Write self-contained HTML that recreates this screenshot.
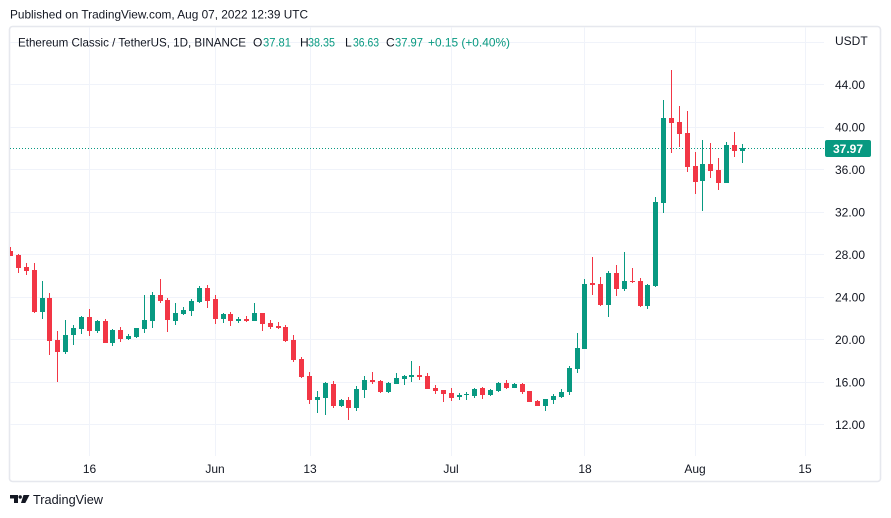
<!DOCTYPE html>
<html><head><meta charset="utf-8"><style>
html,body{margin:0;padding:0;background:#fff;}
svg{display:block;font-family:"Liberation Sans",sans-serif;}
.g{fill:#089981}.r{fill:#f23645}
</style></head><body>
<svg width="891" height="518" viewBox="0 0 891 518" xmlns="http://www.w3.org/2000/svg">
<rect width="891" height="518" fill="#fff"/>
<text x="10" y="18.5" font-size="12" fill="#131722" textLength="298" lengthAdjust="spacingAndGlyphs">Published on TradingView.com, Aug 07, 2022 12:39 UTC</text>
<rect x="9.5" y="26.5" width="871" height="455" rx="3" fill="none" stroke="#e6e8ee" stroke-width="1.6"/>
<g stroke="#f0f3fa" stroke-width="1">
<line x1="10" x2="824" y1="42.5" y2="42.5"/>
<line x1="10" x2="824" y1="84.5" y2="84.5"/>
<line x1="10" x2="824" y1="127.5" y2="127.5"/>
<line x1="10" x2="824" y1="169.5" y2="169.5"/>
<line x1="10" x2="824" y1="212.5" y2="212.5"/>
<line x1="10" x2="824" y1="254.5" y2="254.5"/>
<line x1="10" x2="824" y1="297.5" y2="297.5"/>
<line x1="10" x2="824" y1="339.5" y2="339.5"/>
<line x1="10" x2="824" y1="382.5" y2="382.5"/>
<line x1="10" x2="824" y1="424.5" y2="424.5"/>
<line x1="89.5" x2="89.5" y1="27" y2="456"/>
<line x1="215.5" x2="215.5" y1="27" y2="456"/>
<line x1="310.5" x2="310.5" y1="27" y2="456"/>
<line x1="451.5" x2="451.5" y1="27" y2="456"/>
<line x1="584.5" x2="584.5" y1="27" y2="456"/>
<line x1="695.5" x2="695.5" y1="27" y2="456"/>
<line x1="805.5" x2="805.5" y1="27" y2="456"/>
</g>
<g font-size="12" fill="#131722">
<text x="18" y="46.5" textLength="228" lengthAdjust="spacingAndGlyphs">Ethereum Classic / TetherUS, 1D, BINANCE</text>
<text x="253" y="46.5">O</text><text x="263" y="46.5" fill="#089981" textLength="28" lengthAdjust="spacingAndGlyphs">37.81</text>
<text x="300" y="46.5">H</text><text x="308" y="46.5" fill="#089981" textLength="27" lengthAdjust="spacingAndGlyphs">38.35</text>
<text x="345" y="46.5">L</text><text x="353" y="46.5" fill="#089981" textLength="26" lengthAdjust="spacingAndGlyphs">36.63</text>
<text x="386" y="46.5">C</text><text x="395" y="46.5" fill="#089981" textLength="28" lengthAdjust="spacingAndGlyphs">37.97</text>
<text x="428" y="46.5" fill="#089981" textLength="82" lengthAdjust="spacingAndGlyphs">+0.15 (+0.40%)</text>
</g>
<line x1="10" x2="825" y1="148.5" y2="148.5" stroke="#089981" stroke-width="1" stroke-dasharray="1,2"/>
<defs><clipPath id="c"><rect x="10" y="27" width="814" height="428"/></clipPath></defs>
<g clip-path="url(#c)">
<rect class="r" x="10" y="247" width="1" height="9"/><rect class="r" x="8" y="251" width="5" height="5"/>
<rect class="r" x="18" y="254" width="1" height="19"/><rect class="r" x="16" y="255" width="5" height="13"/>
<rect class="r" x="26" y="263" width="1" height="12"/><rect class="r" x="24" y="267" width="5" height="4"/>
<rect class="r" x="34" y="263" width="1" height="50"/><rect class="r" x="32" y="270" width="5" height="42"/>
<rect class="g" x="42" y="281" width="1" height="38"/><rect class="g" x="40" y="298" width="5" height="14"/>
<rect class="r" x="49" y="293" width="1" height="62"/><rect class="r" x="47" y="298" width="5" height="43"/>
<rect class="r" x="57" y="331" width="1" height="51"/><rect class="r" x="55" y="340" width="5" height="12"/>
<rect class="g" x="65" y="320" width="1" height="34"/><rect class="g" x="63" y="335" width="5" height="17"/>
<rect class="g" x="73" y="325" width="1" height="20"/><rect class="g" x="71" y="328" width="5" height="7"/>
<rect class="g" x="81" y="316" width="1" height="18"/><rect class="g" x="79" y="317" width="5" height="12"/>
<rect class="r" x="89" y="309" width="1" height="27"/><rect class="r" x="87" y="317" width="5" height="14"/>
<rect class="g" x="97" y="320" width="1" height="13"/><rect class="g" x="95" y="321" width="5" height="10"/>
<rect class="r" x="105" y="319" width="1" height="24"/><rect class="r" x="103" y="321" width="5" height="22"/>
<rect class="g" x="112" y="329" width="1" height="17"/><rect class="g" x="110" y="330" width="5" height="13"/>
<rect class="r" x="120" y="327" width="1" height="15"/><rect class="r" x="118" y="330" width="5" height="9"/>
<rect class="g" x="128" y="334" width="1" height="6"/><rect class="g" x="126" y="336" width="5" height="3"/>
<rect class="g" x="136" y="328" width="1" height="10"/><rect class="g" x="134" y="328" width="5" height="9"/>
<rect class="g" x="144" y="295" width="1" height="38"/><rect class="g" x="142" y="320" width="5" height="9"/>
<rect class="g" x="152" y="292" width="1" height="36"/><rect class="g" x="150" y="295" width="5" height="26"/>
<rect class="r" x="160" y="279" width="1" height="24"/><rect class="r" x="158" y="295" width="5" height="6"/>
<rect class="r" x="167" y="298" width="1" height="34"/><rect class="r" x="165" y="300" width="5" height="20"/>
<rect class="g" x="175" y="303" width="1" height="22"/><rect class="g" x="173" y="313" width="5" height="8"/>
<rect class="g" x="183" y="307" width="1" height="8"/><rect class="g" x="181" y="310" width="5" height="4"/>
<rect class="g" x="191" y="299" width="1" height="17"/><rect class="g" x="189" y="301" width="5" height="10"/>
<rect class="g" x="199" y="286" width="1" height="17"/><rect class="g" x="197" y="288" width="5" height="14"/>
<rect class="r" x="207" y="285" width="1" height="23"/><rect class="r" x="205" y="288" width="5" height="13"/>
<rect class="r" x="215" y="295" width="1" height="29"/><rect class="r" x="213" y="299" width="5" height="20"/>
<rect class="g" x="223" y="313" width="1" height="10"/><rect class="g" x="221" y="314" width="5" height="5"/>
<rect class="r" x="230" y="312" width="1" height="14"/><rect class="r" x="228" y="314" width="5" height="7"/>
<rect class="g" x="238" y="317" width="1" height="6"/><rect class="g" x="236" y="319" width="5" height="2"/>
<rect class="r" x="246" y="316" width="1" height="6"/><rect class="r" x="244" y="319" width="5" height="2"/>
<rect class="g" x="254" y="303" width="1" height="18"/><rect class="g" x="252" y="313" width="5" height="8"/>
<rect class="r" x="262" y="313" width="1" height="18"/><rect class="r" x="260" y="313" width="5" height="11"/>
<rect class="r" x="270" y="320" width="1" height="9"/><rect class="r" x="268" y="323" width="5" height="4"/>
<rect class="r" x="278" y="322" width="1" height="7"/><rect class="r" x="276" y="326" width="5" height="2"/>
<rect class="r" x="285" y="325" width="1" height="17"/><rect class="r" x="283" y="327" width="5" height="14"/>
<rect class="r" x="293" y="335" width="1" height="27"/><rect class="r" x="291" y="340" width="5" height="20"/>
<rect class="r" x="301" y="357" width="1" height="21"/><rect class="r" x="299" y="359" width="5" height="18"/>
<rect class="r" x="309" y="372" width="1" height="32"/><rect class="r" x="307" y="376" width="5" height="24"/>
<rect class="g" x="317" y="391" width="1" height="22"/><rect class="g" x="315" y="397" width="5" height="3"/>
<rect class="g" x="325" y="382" width="1" height="33"/><rect class="g" x="323" y="383" width="5" height="15"/>
<rect class="r" x="333" y="381" width="1" height="27"/><rect class="r" x="331" y="384" width="5" height="22"/>
<rect class="g" x="341" y="399" width="1" height="8"/><rect class="g" x="339" y="400" width="5" height="6"/>
<rect class="r" x="348" y="397" width="1" height="23"/><rect class="r" x="346" y="400" width="5" height="8"/>
<rect class="g" x="356" y="386" width="1" height="25"/><rect class="g" x="354" y="389" width="5" height="19"/>
<rect class="g" x="364" y="376" width="1" height="22"/><rect class="g" x="362" y="380" width="5" height="10"/>
<rect class="r" x="372" y="372" width="1" height="12"/><rect class="r" x="370" y="380" width="5" height="2"/>
<rect class="r" x="380" y="380" width="1" height="13"/><rect class="r" x="378" y="381" width="5" height="11"/>
<rect class="g" x="388" y="382" width="1" height="11"/><rect class="g" x="386" y="383" width="5" height="9"/>
<rect class="g" x="396" y="373" width="1" height="11"/><rect class="g" x="394" y="378" width="5" height="6"/>
<rect class="g" x="404" y="375" width="1" height="10"/><rect class="g" x="402" y="376" width="5" height="3"/>
<rect class="g" x="411" y="361" width="1" height="21"/><rect class="g" x="409" y="375" width="5" height="2"/>
<rect class="r" x="419" y="366" width="1" height="14"/><rect class="r" x="417" y="375" width="5" height="2"/>
<rect class="r" x="427" y="373" width="1" height="16"/><rect class="r" x="425" y="376" width="5" height="13"/>
<rect class="r" x="435" y="385" width="1" height="9"/><rect class="r" x="433" y="388" width="5" height="3"/>
<rect class="r" x="443" y="390" width="1" height="12"/><rect class="r" x="441" y="390" width="5" height="4"/>
<rect class="r" x="451" y="388" width="1" height="13"/><rect class="r" x="449" y="393" width="5" height="5"/>
<rect class="g" x="459" y="393" width="1" height="7"/><rect class="g" x="457" y="395" width="5" height="2"/>
<rect class="g" x="466" y="392" width="1" height="8"/><rect class="g" x="464" y="394" width="5" height="1"/>
<rect class="g" x="474" y="388" width="1" height="10"/><rect class="g" x="472" y="389" width="5" height="7"/>
<rect class="r" x="482" y="387" width="1" height="12"/><rect class="r" x="480" y="388" width="5" height="7"/>
<rect class="g" x="490" y="389" width="1" height="7"/><rect class="g" x="488" y="390" width="5" height="5"/>
<rect class="g" x="498" y="382" width="1" height="10"/><rect class="g" x="496" y="383" width="5" height="8"/>
<rect class="r" x="506" y="380" width="1" height="9"/><rect class="r" x="504" y="383" width="5" height="5"/>
<rect class="g" x="514" y="383" width="1" height="5"/><rect class="g" x="512" y="384" width="5" height="4"/>
<rect class="r" x="522" y="383" width="1" height="11"/><rect class="r" x="520" y="384" width="5" height="8"/>
<rect class="r" x="529" y="391" width="1" height="11"/><rect class="r" x="527" y="391" width="5" height="11"/>
<rect class="r" x="537" y="400" width="1" height="6"/><rect class="r" x="535" y="401" width="5" height="5"/>
<rect class="g" x="545" y="399" width="1" height="12"/><rect class="g" x="543" y="399" width="5" height="7"/>
<rect class="g" x="553" y="394" width="1" height="10"/><rect class="g" x="551" y="396" width="5" height="4"/>
<rect class="g" x="561" y="389" width="1" height="9"/><rect class="g" x="559" y="392" width="5" height="5"/>
<rect class="g" x="569" y="366" width="1" height="29"/><rect class="g" x="567" y="368" width="5" height="24"/>
<rect class="g" x="577" y="333" width="1" height="40"/><rect class="g" x="575" y="348" width="5" height="21"/>
<rect class="g" x="584" y="279" width="1" height="70"/><rect class="g" x="582" y="284" width="5" height="65"/>
<rect class="r" x="592" y="257" width="1" height="38"/><rect class="r" x="590" y="283" width="5" height="2"/>
<rect class="r" x="600" y="277" width="1" height="29"/><rect class="r" x="598" y="284" width="5" height="21"/>
<rect class="g" x="608" y="271" width="1" height="46"/><rect class="g" x="606" y="273" width="5" height="32"/>
<rect class="r" x="616" y="265" width="1" height="31"/><rect class="r" x="614" y="273" width="5" height="16"/>
<rect class="g" x="624" y="252" width="1" height="39"/><rect class="g" x="622" y="281" width="5" height="8"/>
<rect class="r" x="632" y="268" width="1" height="15"/><rect class="r" x="630" y="281" width="5" height="1"/>
<rect class="r" x="640" y="278" width="1" height="29"/><rect class="r" x="638" y="281" width="5" height="25"/>
<rect class="g" x="647" y="284" width="1" height="25"/><rect class="g" x="645" y="285" width="5" height="21"/>
<rect class="g" x="655" y="197" width="1" height="90"/><rect class="g" x="653" y="202" width="5" height="84"/>
<rect class="g" x="663" y="100" width="1" height="113"/><rect class="g" x="661" y="118" width="5" height="85"/>
<rect class="r" x="671" y="70" width="1" height="83"/><rect class="r" x="669" y="118" width="5" height="5"/>
<rect class="r" x="679" y="106" width="1" height="41"/><rect class="r" x="677" y="122" width="5" height="12"/>
<rect class="r" x="687" y="111" width="1" height="61"/><rect class="r" x="685" y="133" width="5" height="34"/>
<rect class="r" x="695" y="152" width="1" height="42"/><rect class="r" x="693" y="166" width="5" height="16"/>
<rect class="g" x="702" y="140" width="1" height="71"/><rect class="g" x="700" y="164" width="5" height="17"/>
<rect class="r" x="710" y="143" width="1" height="35"/><rect class="r" x="708" y="164" width="5" height="7"/>
<rect class="r" x="718" y="158" width="1" height="32"/><rect class="r" x="716" y="170" width="5" height="13"/>
<rect class="g" x="726" y="142" width="1" height="41"/><rect class="g" x="724" y="145" width="5" height="38"/>
<rect class="r" x="734" y="132" width="1" height="25"/><rect class="r" x="732" y="145" width="5" height="6"/>
<rect class="g" x="742" y="144" width="1" height="19"/><rect class="g" x="740" y="148" width="5" height="3"/>
</g>
<g font-size="12" fill="#131722">
<text x="835" y="45">USDT</text>
<text x="835" y="89">44.00</text>
<text x="835" y="131.5">40.00</text>
<text x="835" y="174">36.00</text>
<text x="835" y="216.5">32.00</text>
<text x="835" y="259">28.00</text>
<text x="835" y="301.5">24.00</text>
<text x="835" y="344">20.00</text>
<text x="835" y="386.5">16.00</text>
<text x="835" y="429">12.00</text>
</g>
<rect x="825" y="140" width="46" height="17" rx="2" fill="#089981"/>
<text x="848" y="153" font-size="12" font-weight="bold" fill="#fff" text-anchor="middle">37.97</text>
<g font-size="12" fill="#131722" text-anchor="middle">
<text x="89.5" y="473">16</text>
<text x="215" y="473">Jun</text>
<text x="310" y="473">13</text>
<text x="451" y="473">Jul</text>
<text x="585" y="473">18</text>
<text x="695" y="473">Aug</text>
<text x="805" y="473">15</text>
</g>
<g fill="#131722">
<path d="M10 495h8v8h-4v-4.5h-4z"/>
<circle cx="20.2" cy="497" r="1.7"/>
<path d="M23.5 495h6l-4.2 8h-4.3z"/>
</g>
<text x="33" y="504" font-size="12.5" fill="#131722" textLength="70" lengthAdjust="spacingAndGlyphs">TradingView</text>
</svg>
</body></html>
